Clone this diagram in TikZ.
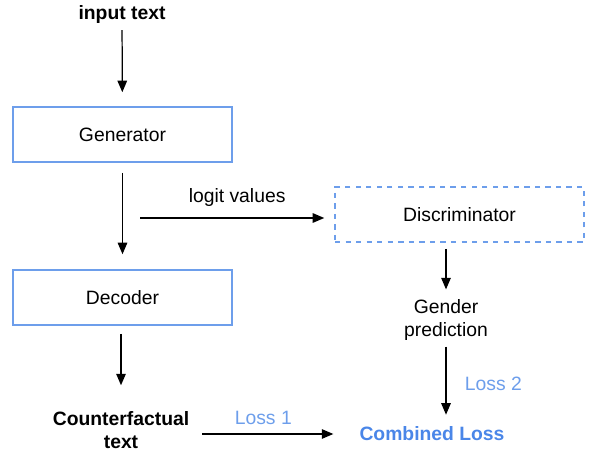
\documentclass[tikz,border=0pt]{standalone}
\usepackage{fontspec}
\setmainfont{Liberation Sans}
\usetikzlibrary{arrows.meta}
\definecolor{boxblue}{HTML}{6D9EEB}
\definecolor{lossblue}{HTML}{4A86E8}
\tikzset{
  block/.style={draw=boxblue, line width=0.9pt, minimum width=4.38cm, minimum height=1.1cm, inner sep=0pt},
  flow/.style={-{Triangle[length=2.3mm,width=1.9mm]}, line width=0.7pt},
  losslabel/.style={text=boxblue}
}

\begin{document}
\begin{tikzpicture}[x=0.02cm, y=-0.02cm, font=\fontsize{11}{13}\selectfont]
\useasboundingbox (0,0) rectangle (590,452);

\node (input) at (122,15) {\textbf{input text}};
\node[block] (gen) at (122.5,134.5) {Generator};
\node[block] (dec) at (122.5,297.5) {Decoder};
\node[block, dashed, minimum width=4.98cm] (disc) at (459.5,214.5) {Discriminator};
\node[align=center] (gender) at (446,320) {Gender\\prediction};
\node[align=center, font=\fontsize{11}{13}\selectfont\bfseries] (cf) at (121,430) {Counterfactual\\text};
\node[text=lossblue, font=\fontsize{11}{13}\selectfont\bfseries] (combined) at (432,434) {Combined Loss};
\coordinate (logitstart) at (140,218);

\draw[flow, shorten >=0.28cm] (input) -- (gen);
\draw[flow, shorten <=0.2cm, shorten >=0.3cm] (gen) -- (dec);
\draw[flow, shorten >=0.2cm] (logitstart) -- (disc.west |- logitstart)
  node[midway, above=0.1cm] {logit values};
\draw[flow, shorten <=0.12cm, shorten >=0.08cm] (gender |- disc.south) -- (gender.north);
\draw[flow, shorten >=0.12cm] (gender.south) -- (gender.south |- combined.north)
  node[midway, right=0.25cm, losslabel] {Loss 2};
\draw[flow, shorten <=0.16cm, shorten >=0.4cm] (cf |- dec.south) -- (cf);
\draw[flow, shorten <=0.14cm, shorten >=0.4cm] (cf.east |- combined.west) -- (combined.west)
  node[pos=0.43, above=0.05cm, losslabel] {Loss 1};
\end{tikzpicture}
\end{document}
